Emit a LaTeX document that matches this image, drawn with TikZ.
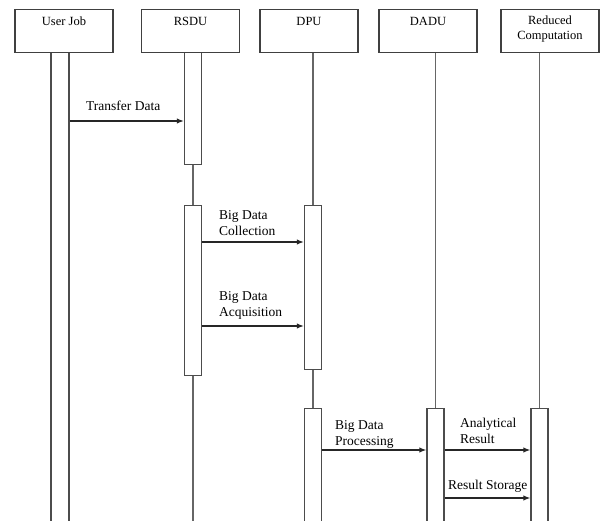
\documentclass[tikz,border=0pt]{standalone}
\usepackage{fontspec}
\setmainfont{Liberation Serif}
\usetikzlibrary{arrows.meta}

\begin{document}
\begin{tikzpicture}[x=1pt, y=-1pt, >={Latex[length=7pt,width=5.5pt]},
    head/.style={draw=black!75, line width=1.4pt, minimum width=98pt,
        minimum height=43pt, inner ysep=5pt, text height=11pt, text depth=22pt,
        align=center, font=\fontsize{12.5}{15}\selectfont, anchor=north},
    bar/.style={draw=black!70, line width=1.4pt, fill=white,
        minimum width=17pt, inner sep=0pt, anchor=north},
    life/.style={draw=black!60, line width=1.6pt},
    msg/.style={->, draw=black!85, line width=1.2pt},
    lbl/.style={anchor=base west, inner sep=0pt, align=left,
        font=\fontsize{13.5}{16}\selectfont}]
    \useasboundingbox (0,0) rectangle (600,521);
    \clip (0,0) rectangle (600,521);
    \coordinate (bot) at (0,530);

    % Activation bars
    \node [bar, minimum width=18pt, minimum height=480pt] (ujbar) at (60,52)    {};
    \node [bar, minimum height=112pt]                     (rsdu1) at (193,52)   {};
    \node [bar, minimum height=170pt]                     (rsdu2) at (193,205)  {};
    \node [bar, minimum height=164pt]                     (dpu1)  at (313,205)  {};
    \node [bar, minimum height=122pt]                     (dpu2)  at (313,408)  {};
    \node [bar, minimum height=122pt]                     (dadu1) at (435.5,408) {};
    \node [bar, minimum height=122pt]                     (rc1)   at (539.5,408) {};

    % Heads {uj, rsdu, dpu, dadu, rc}
    \node [head] (uj)   at (64,9)    {User Job};
    \node [head] (rsdu) at (190.5,9) {RSDU};
    \node [head] (dpu)  at (309,9)   {DPU};
    \node [head] (dadu) at (428,9)   {DADU};
    \node [head, text height=25pt, text depth=8pt] (rc) at (550,9) {Reduced\\Computation};

    % Lifelines
    \draw [life] (rsdu1.south) -- (rsdu2.north);
    \draw [life] (rsdu2.south) -- (rsdu2.south |- bot);
    \draw [life] (dpu.south -| dpu1.north) -- (dpu1.north);
    \draw [life] (dpu1.south) -- (dpu2.north);
    \draw [life] (dadu.south -| dadu1.north) -- (dadu1.north);
    \draw [life] (rc.south -| rc1.north) -- (rc1.north);

    % Messages
    \draw [msg] (ujbar.east |- 0,121) -- (rsdu1.west |- 0,121);
    \draw [msg] (rsdu2.east |- 0,242) -- (dpu1.west |- 0,242);
    \draw [msg] (rsdu2.east |- 0,326) -- (dpu1.west |- 0,326);
    \draw [msg] (dpu2.east |- 0,450)  -- (dadu1.west |- 0,450);
    \draw [msg] (dadu1.east |- 0,450) -- (rc1.west |- 0,450);
    \draw [msg] (dadu1.east |- 0,498) -- (rc1.west |- 0,498);

    % Labels (base = last line)
    \node [lbl] (ltd)   at (86,111)  {Transfer Data};
    \node [lbl] (lcol)  at (219,236) {Big Data\\Collection};
    \node [lbl] (lacq)  at (219,317) {Big Data\\Acquisition};
    \node [lbl] (lproc) at (335,445) {Big Data\\Processing};
    \node [lbl] (lana)  at (460,443) {Analytical\\Result};
    \node [lbl] (lrs)   at (448,489) {Result Storage};
\end{tikzpicture}
\end{document}
